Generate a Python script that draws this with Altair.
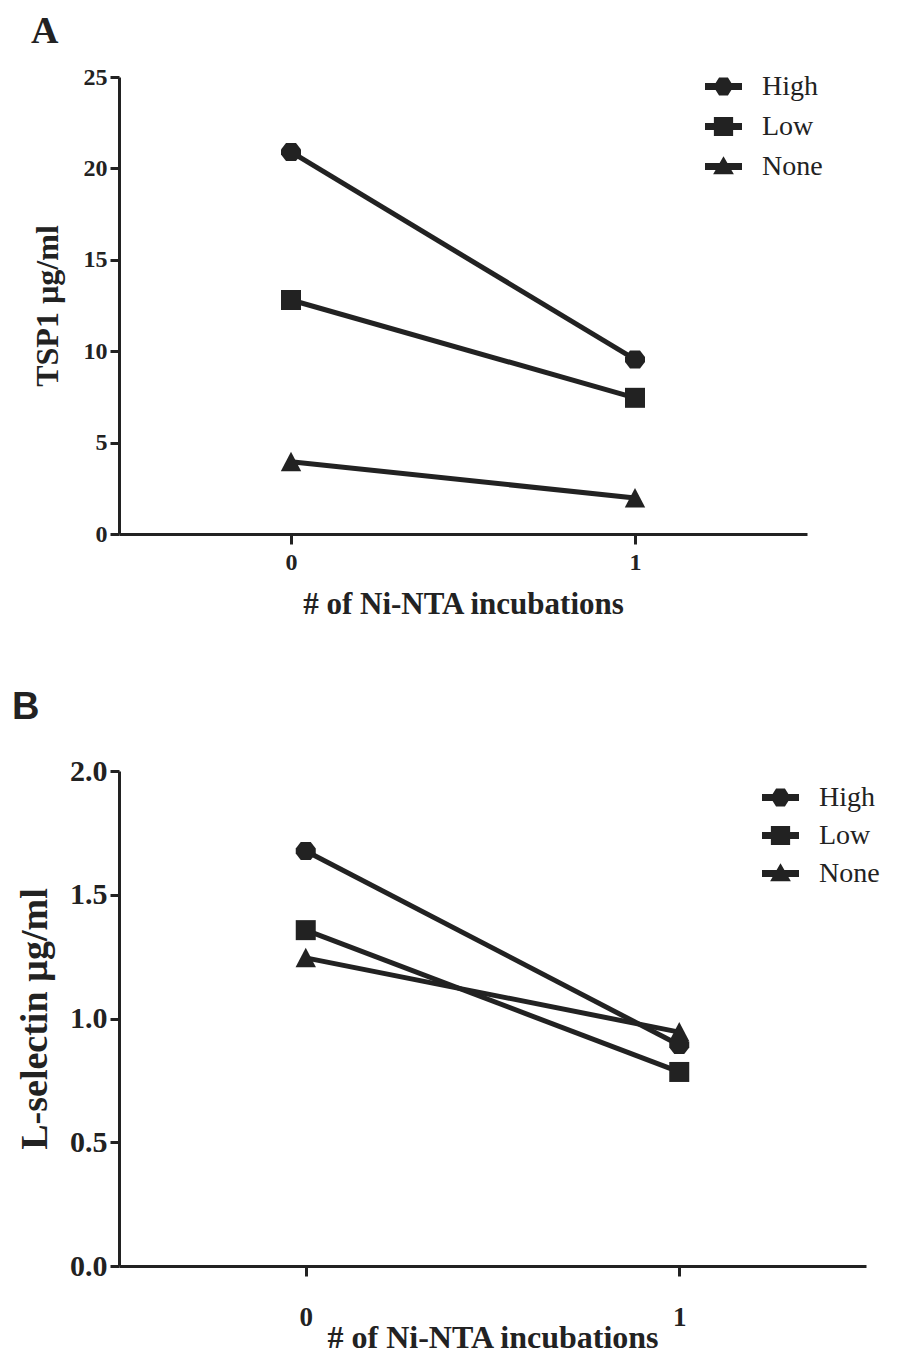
import altair as alt
import pandas as pd

groups = ["High", "Low", "None"]
incubations = [0, 1]

tsp1_high = [20.9, 9.55]
tsp1_low = [12.8, 7.45]
tsp1_none = [3.95, 1.97]

lsel_high = [1.677, 0.893]
lsel_low = [1.357, 0.784]
lsel_none = [1.245, 0.945]

tsp1_ticks = [0, 5, 10, 15, 20, 25]
lsel_ticks = [0.0, 0.5, 1.0, 1.5, 2.0]
x_ticks = [0, 1]

INK = "#222222"
SERIF = "Liberation Serif"
SANS = "Liberation Sans"

# marker outlines (plot)
marker_range = [
    "M-0.5,-0.9L0.5,-0.9L1,-0.25L1,0.25L0.5,0.9L-0.5,0.9L-1,0.25L-1,-0.25Z",
    "M-1,-1L1,-1L1,1L-1,1Z",
    "M0,-1L1.02,0.95L-1.02,0.95Z",
]
# legend glyphs: a short line through the marker
BAR = "M-1,-0.19L1,-0.19L1,0.19L-1,0.19Z"
legend_range = [
    BAR + "M-0.24,-0.49L0.24,-0.49L0.46,-0.14L0.46,0.14L0.24,0.49L-0.24,0.49L-0.46,0.14L-0.46,-0.14Z",
    BAR + "M-0.52,-0.52L0.52,-0.52L0.52,0.52L-0.52,0.52Z",
    BAR + "M0,-0.56L0.56,0.42L-0.56,0.42Z",
]


def make_df(high, low, none):
    rows = []
    for g, vals in zip(groups, [high, low, none]):
        for xi, v in zip(incubations, vals):
            rows.append({"group": g, "incubations": xi, "value": v})
    return pd.DataFrame(rows)


def panel(df, ytitle, yticks, ydomain, yfmt, w, h, letter, letter_font, letter_size,
          letter_dx, letter_offset, tick_fs, xtick_fs, xlabpad, title_fs, ytitle_fs,
          ytitle_x, xtitle_y, legx, legy, rowpad):
    x = alt.X(
        "incubations:Q",
        scale=alt.Scale(domain=[-0.5, 1.5], nice=False, zero=False),
        axis=alt.Axis(
            values=x_ticks, format="d", title="# of Ni-NTA incubations",
            labelFontSize=xtick_fs, labelPadding=xlabpad, tickSize=10,
            titleFontSize=title_fs, titleY=xtitle_y, titleBaseline="alphabetic",
        ),
    )
    y = alt.Y(
        "value:Q",
        scale=alt.Scale(domain=ydomain, nice=False),
        axis=alt.Axis(
            values=yticks, format=yfmt, title=ytitle,
            labelFontSize=tick_fs, labelPadding=3, tickSize=9,
            titleFontSize=ytitle_fs, titleX=ytitle_x, titleBaseline="middle",
        ),
    )
    lines = alt.Chart(df).mark_line(color=INK, strokeWidth=5).encode(
        x=x, y=y, detail="group:N"
    )
    pts = alt.Chart(df).mark_point(
        filled=True, color=INK, opacity=1, size=400, strokeWidth=0
    ).encode(
        x=x, y=y,
        shape=alt.Shape("group:N", scale=alt.Scale(domain=groups, range=marker_range), legend=None),
    )
    leg = alt.Chart(df).transform_filter("false").mark_point(
        filled=True, color=INK, opacity=1, strokeWidth=0
    ).encode(
        x=x, y=y,
        shape=alt.Shape(
            "group:N",
            scale=alt.Scale(domain=groups, range=legend_range),
            legend=alt.Legend(
                title=None, orient="none", legendX=legx, legendY=legy,
                symbolSize=1369, symbolFillColor=INK, symbolStrokeWidth=0,
                symbolOpacity=1, labelFont=SERIF, labelFontSize=28,
                labelFontWeight="normal", labelColor=INK, labelOffset=20,
                rowPadding=rowpad,
            ),
        ),
    )
    return alt.layer(lines, pts, leg).resolve_scale(shape="independent").properties(
        width=w, height=h,
        title=alt.TitleParams(
            letter, anchor="start", frame="group", dx=letter_dx, offset=letter_offset,
            font=letter_font, fontSize=letter_size, fontWeight="bold",
            baseline="alphabetic", color=INK,
        ),
    )


chart_a = panel(make_df(tsp1_high, tsp1_low, tsp1_none), "TSP1 µg/ml", tsp1_ticks, [0, 25], "d",
                688, 457, "A", SERIF, 38, -88, -16, 24, 24, 6, 31, 32, -72, 79,
                586, -9, 7)
chart_b = panel(make_df(lsel_high, lsel_low, lsel_none), "L-selectin µg/ml", lsel_ticks, [0, 2], ".1f",
                747, 495, "B", SANS, 38, -107, -1, 30, 27, 28, 32, 38, -84, 81,
                643, 8, 5)

chart = alt.vconcat(chart_a, chart_b, spacing=237, bounds="flush").properties(
    padding={"left": 4, "top": 5, "right": 0, "bottom": 0}
).configure_view(stroke=None).configure_axis(
    domainColor=INK, domainWidth=3, tickColor=INK, tickWidth=3, grid=False,
    labelFont=SERIF, labelFontWeight="bold", labelColor=INK,
    titleFont=SERIF, titleFontWeight="bold", titleColor=INK,
)

chart.save("out.html", embed_options={"renderer": "svg", "actions": False})
